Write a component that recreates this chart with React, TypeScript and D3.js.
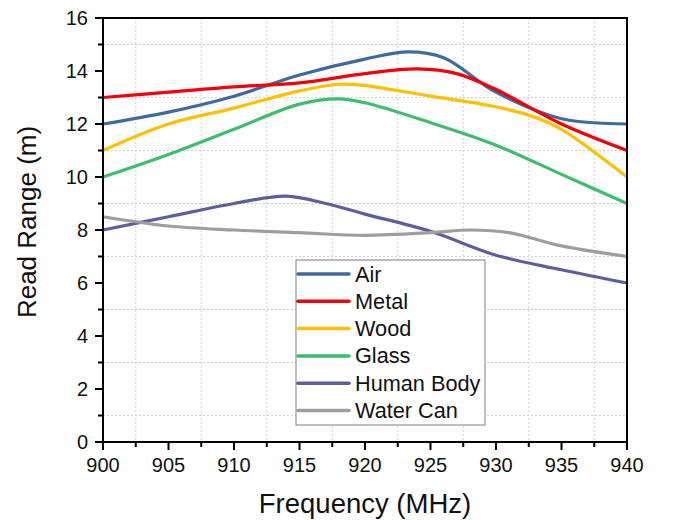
import React from "react";
import * as d3 from "d3";

const airF = [900, 905, 910, 915, 920, 923.3, 926, 930, 935, 940];
const airV = [12.0, 12.45, 13.05, 13.85, 14.45, 14.72, 14.5, 13.2, 12.2, 12.0];
const metalF = [900, 905, 910, 915, 920, 924, 927, 930, 935, 940];
const metalV = [13.0, 13.2, 13.4, 13.55, 13.9, 14.08, 13.9, 13.3, 12.0, 11.0];
const woodF = [900, 905, 910, 915, 918, 920, 925, 930, 933, 935, 940];
const woodV = [11.0, 12.0, 12.6, 13.25, 13.5, 13.45, 13.05, 12.65, 12.25, 11.8, 10.0];
const glassF = [900, 905, 910, 915, 918, 920, 925, 930, 935, 940];
const glassV = [10.0, 10.85, 11.8, 12.75, 12.95, 12.8, 12.05, 11.2, 10.1, 9.0];
const humanF = [900, 905, 910, 914, 917, 920, 925, 930, 935, 940];
const humanV = [8.0, 8.5, 9.0, 9.28, 9.0, 8.6, 7.95, 7.05, 6.5, 6.0];
const waterF = [900, 905, 910, 915, 920, 925, 928, 931, 935, 940];
const waterV = [8.5, 8.15, 8.0, 7.9, 7.8, 7.9, 8.0, 7.9, 7.4, 7.0];

const seriesNames = ["Air", "Metal", "Wood", "Glass", "Human Body", "Water Can"];
const seriesColors = ["#3D6B9C", "#F5000A", "#FFC000", "#3DBE6E", "#5E5E9E", "#9E9E9E"];
const seriesF = [airF, metalF, woodF, glassF, humanF, waterF];
const seriesV = [airV, metalV, woodV, glassV, humanV, waterV];

const xTicks = [900, 905, 910, 915, 920, 925, 930, 935, 940];
const xMinor = [902.5, 907.5, 912.5, 917.5, 922.5, 927.5, 932.5, 937.5];
const yTicks = [0, 2, 4, 6, 8, 10, 12, 14, 16];
const yMinor = [1, 3, 5, 7, 9, 11, 13, 15];

const FONT = "Arial, 'Liberation Sans', sans-serif";

export default function App() {
  const W = 673, H = 520;
  const left = 103, right = 627, top = 18, bottom = 442;
  const x = d3.scaleLinear().domain([900, 940]).range([left, right]);
  const y = d3.scaleLinear().domain([0, 16]).range([bottom, top]);
  const line = d3
    .line<[number, number]>()
    .x((d) => x(d[0]))
    .y((d) => y(d[1]))
    .curve(d3.curveCatmullRom.alpha(0.5));

  const legX = 296, legY = 260, legW = 189, legH = 165, rowH = 27.3;

  return (
    <svg width={W} height={H} style={{ position: "absolute", left: 0, top: 0 }} fontFamily={FONT}>
      <rect x={0} y={0} width={W} height={H} fill="#fff" />
      {xMinor.map((v) => (
        <line key={"gx" + v} x1={x(v)} x2={x(v)} y1={top} y2={bottom} stroke="#d0d0d0" strokeWidth={1} strokeDasharray="2,2" />
      ))}
      {yMinor.map((v) => (
        <line key={"gy" + v} x1={left} x2={right} y1={y(v)} y2={y(v)} stroke="#d0d0d0" strokeWidth={1} strokeDasharray="2,2" />
      ))}
      {seriesNames.map((n, i) => (
        <path
          key={n}
          d={line(seriesF[i].map((f, j) => [f, seriesV[i][j]] as [number, number])) || ""}
          fill="none"
          stroke={seriesColors[i]}
          strokeWidth={3.2}
          strokeLinejoin="round"
        />
      ))}
      <rect x={left} y={top} width={right - left} height={bottom - top} fill="none" stroke="#000" strokeWidth={2} />
      {xTicks.map((v) => (
        <g key={"xt" + v}>
          <line x1={x(v)} x2={x(v)} y1={bottom} y2={bottom + 8} stroke="#000" strokeWidth={2} />
          <text x={x(v)} y={472} textAnchor="middle" fontSize={20} fill="#111">{v}</text>
        </g>
      ))}
      {xMinor.map((v) => (
        <line key={"xm" + v} x1={x(v)} x2={x(v)} y1={bottom} y2={bottom + 5} stroke="#000" strokeWidth={2} />
      ))}
      {yTicks.map((v) => (
        <g key={"yt" + v}>
          <line x1={left - 8} x2={left} y1={y(v)} y2={y(v)} stroke="#000" strokeWidth={2} />
          <text x={88} y={y(v) + 7} textAnchor="end" fontSize={20} fill="#111">{v}</text>
        </g>
      ))}
      {yMinor.map((v) => (
        <line key={"ym" + v} x1={left - 5} x2={left} y1={y(v)} y2={y(v)} stroke="#000" strokeWidth={2} />
      ))}
      <text x={365} y={513} textAnchor="middle" fontSize={27.5} fill="#111">Frequency (MHz)</text>
      <text transform={`translate(36,222) rotate(-90)`} textAnchor="middle" fontSize={26} fill="#111">Read Range (m)</text>
      <rect x={legX} y={legY} width={legW} height={legH} fill="#fff" stroke="#808080" strokeWidth={1} />
      {seriesNames.map((n, i) => {
        const cy = legY + 14 + i * rowH;
        return (
          <g key={"lg" + n}>
            <line x1={298} x2={349} y1={cy} y2={cy} stroke={seriesColors[i]} strokeWidth={3.5} strokeLinecap="round" />
            <text x={355} y={cy + 7.5} fontSize={21.7} fill="#111">{n}</text>
          </g>
        );
      })}
    </svg>
  );
}
